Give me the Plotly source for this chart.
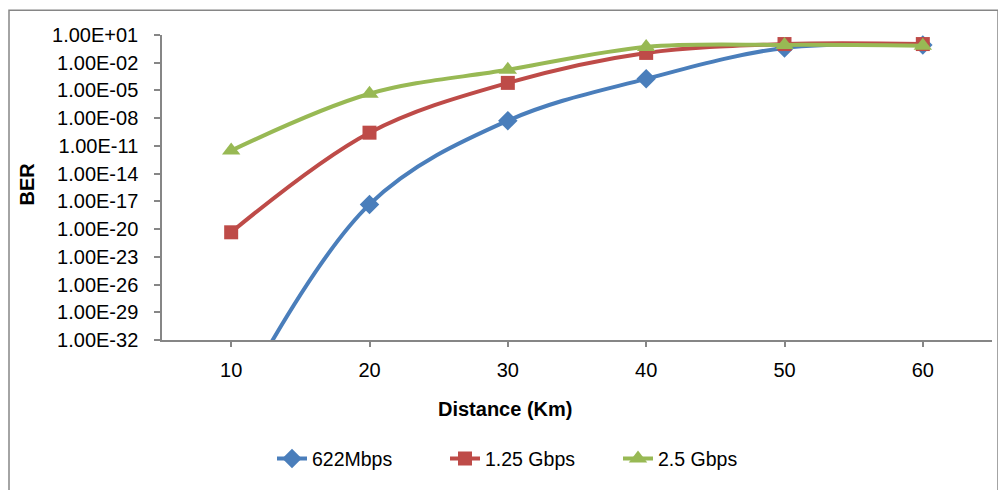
import plotly.graph_objects as go

distance = [10, 20, 30, 40, 50, 60]
ber_622m = [1e-40, 4.7e-18, 5.4e-9, 1.8e-4, 0.4, 0.83]
ber_125g = [4.5e-21, 2.7e-10, 6.6e-5, 0.115, 1.05, 1.05]
ber_25g = [3.1e-12, 4.4e-6, 1.7e-3, 0.51, 0.85, 0.7]
series_names = ["622Mbps", "1.25 Gbps", "2.5 Gbps"]

ytick_vals = [1e1, 1e-2, 1e-5, 1e-8, 1e-11, 1e-14, 1e-17, 1e-20, 1e-23, 1e-26, 1e-29, 1e-32]
ytick_text = ["1.00E+01", "1.00E-02", "1.00E-05", "1.00E-08", "1.00E-11", "1.00E-14",
              "1.00E-17", "1.00E-20", "1.00E-23", "1.00E-26", "1.00E-29", "1.00E-32"]
xtick_vals = [10, 20, 30, 40, 50, 60]

colors = ["#4A7EBB", "#BE4B48", "#98B954"]
symbols = ["diamond", "square", "triangle-up"]
sizes = [15, 14, 16]
FONT = "Liberation Sans, Arial, sans-serif"

# page body has an 8px margin; compensate so the plot area lands at the target pixels
OFF = 8
W, H = 1006 - OFF, 490 - OFF
L, R, T, B = 162 - OFF, 14, 35 - OFF, H - (343 - OFF)
PW, PH = 830, 308

fig = go.Figure()
for name, ys, c, s, sz in zip(series_names, [ber_622m, ber_125g, ber_25g], colors, symbols, sizes):
    fig.add_trace(go.Scatter(
        x=distance, y=ys, name=name, mode="lines+markers",
        line=dict(color=c, width=4, shape="spline", smoothing=1),
        marker=dict(symbol=s, size=sz, color=c),
    ))

axis_col = "#868686"
fig.update_layout(
    width=W, height=H,
    margin=dict(l=L, r=R, t=T, b=B),
    paper_bgcolor="white", plot_bgcolor="white",
    font=dict(family=FONT, size=20, color="black"),
    showlegend=True,
    legend=dict(orientation="h", x=(272 - 162) / PW, xanchor="left",
                y=(343 - 463) / PH, yanchor="middle",
                font=dict(size=19.5), tracegroupgap=0, entrywidth=128),
    xaxis=dict(range=[5, 65], tickvals=xtick_vals, showgrid=False, zeroline=False,
               showline=True, linecolor=axis_col, linewidth=1.5,
               ticks="outside", ticklen=5, tickcolor=axis_col, tickwidth=1.5,
               tickfont=dict(size=20), ticklabelstandoff=6),
    yaxis=dict(type="log", range=[-32, 1], tickvals=ytick_vals, ticktext=ytick_text,
               showgrid=False, zeroline=False,
               showline=True, linecolor=axis_col, linewidth=1.5,
               ticks="outside", ticklen=6, tickcolor=axis_col, tickwidth=1.5,
               tickfont=dict(size=20), ticklabelstandoff=12),
)

fig.add_shape(type="rect", xref="paper", yref="paper",
              x0=(9 - 162) / PW, x1=(998 - 162) / PW, y0=-0.52, y1=(343 - 10) / PH,
              line=dict(color=axis_col, width=1.5), fillcolor="rgba(0,0,0,0)", layer="above")

fig.add_annotation(text="<b>Distance (Km)</b>", xref="paper", yref="paper",
                   x=(505 - 162) / PW, y=(343 - 413) / PH, showarrow=False,
                   font=dict(size=20), xanchor="center", yanchor="middle")
fig.add_annotation(text="<b>BER</b>", xref="paper", yref="paper",
                   x=(27 - 162) / PW, y=(343 - 186) / PH, showarrow=False, textangle=-90,
                   font=dict(size=20), xanchor="center", yanchor="middle")

fig.write_html("out.html")
